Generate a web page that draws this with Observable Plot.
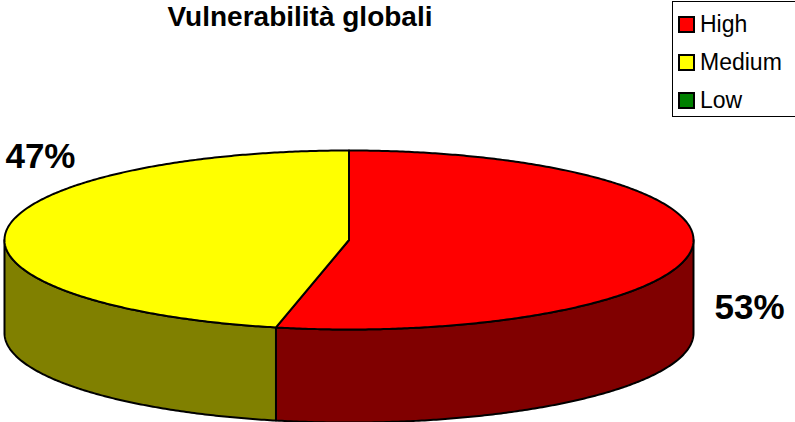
<!DOCTYPE html>
<html>
<head>
<meta charset="utf-8">
<script src="https://cdn.jsdelivr.net/npm/d3@7"></script>
<script src="https://cdn.jsdelivr.net/npm/@observablehq/plot@0.6"></script>
<style>
  html, body { margin: 0; padding: 0; background: #fff; }
  #wrap { position: relative; width: 795px; height: 422px; overflow: hidden; font-family: "Liberation Sans", Arial, sans-serif; }
  #title { position: absolute; left: 0; width: 600px; top: 0px; text-align: center; font-weight: bold; font-size: 28px; line-height: 34px; color: #000; }
  #legend { position: absolute; left: 672px; top: 1px; width: 140px; height: 116px; border: 1px solid #000; box-sizing: border-box; background: #fff; }
  .item { position: absolute; left: 5px; height: 26px; font-size: 23px; line-height: 26px; color: #000; white-space: nowrap; }
  .sw { display: inline-block; width: 13px; height: 13px; border: 2px solid #000; vertical-align: -1px; margin-right: 5px; }
</style>
</head>
<body>
<div id="wrap">
  <div id="chart"></div>
  <div id="title"></div>
  <div id="legend"></div>
</div>
<script>
// ---- data ----
const title = "Vulnerabilità globali";
const categories = ["High", "Medium", "Low"];
const values = [53.4, 46.6, 0];
const labels = ["53%", "47%", "0%"];
const topColors = ["#FF0000", "#FFFF00", "#008000"];
const sideColors = ["#800000", "#808000", "#004000"];

// ---- layout constants ----
const depth = 1.04;              // pie thickness in units of the vertical radius
const labelOffsets = [[58, 58], [34, -74], [0, 0]]; // per-slice label offsets (px)

// ---- geometry built from the data ----
const total = d3.sum(values);
let acc = 0;
const slices = categories.map((c, i) => {
  const a0 = acc / total * 2 * Math.PI;
  acc += values[i];
  const a1 = acc / total * 2 * Math.PI;
  return {c, i, a0, a1, v: values[i]};
}).filter(s => s.v > 0);

const step = Math.PI / 360;
function arc(a0, a1, yOff) {
  const pts = [];
  const n = Math.max(2, Math.ceil((a1 - a0) / step));
  for (let k = 0; k <= n; k++) {
    const a = a0 + (a1 - a0) * k / n;
    pts.push({x: Math.sin(a), y: -Math.cos(a) + yOff});
  }
  return pts;
}

const marks = [];
// sides (front half only: angles between PI/2 and 3PI/2)
for (const s of slices) {
  const b0 = Math.max(s.a0, Math.PI / 2), b1 = Math.min(s.a1, 3 * Math.PI / 2);
  if (b1 <= b0) continue;
  const upper = arc(b0, b1, 0);
  const lower = arc(b0, b1, depth).reverse();
  const poly = [...upper, ...lower, upper[0]];
  marks.push(Plot.line(poly, {x: "x", y: "y", fill: sideColors[s.i], stroke: "#000", strokeWidth: 2, curve: "linear"}));
}
// top faces
for (const s of slices) {
  const poly = [{x: 0, y: 0}, ...arc(s.a0, s.a1, 0), {x: 0, y: 0}];
  marks.push(Plot.line(poly, {x: "x", y: "y", fill: topColors[s.i], stroke: "#000", strokeWidth: 2, strokeLinejoin: "round"}));
}
// labels
for (const s of slices) {
  const m = (s.a0 + s.a1) / 2;
  marks.push(Plot.text([{x: Math.sin(m), y: -Math.cos(m), t: labels[s.i]}], {
    x: "x", y: "y", text: "t", dx: labelOffsets[s.i][0], dy: labelOffsets[s.i][1],
    fontSize: 35, fontWeight: "bold", fill: "#000", textAnchor: "middle"
  }));
}

const chart = Plot.plot({
  width: 795,
  height: 422,
  margin: 0,
  style: {background: "transparent", fontFamily: "Liberation Sans, Arial, sans-serif", overflow: "visible"},
  x: {domain: [-1, 1], range: [4, 693], axis: null},
  y: {domain: [-1, 1], range: [150, 329], axis: null},
  marks
});
document.getElementById("chart").appendChild(chart);

document.getElementById("title").textContent = title;
const legend = document.getElementById("legend");
categories.forEach((c, i) => {
  const d = document.createElement("div");
  d.className = "item";
  d.style.top = (9 + i * 38) + "px";
  d.innerHTML = `<span class="sw" style="background:${topColors[i]}"></span>${c}`;
  legend.appendChild(d);
});
</script>
</body>
</html>
